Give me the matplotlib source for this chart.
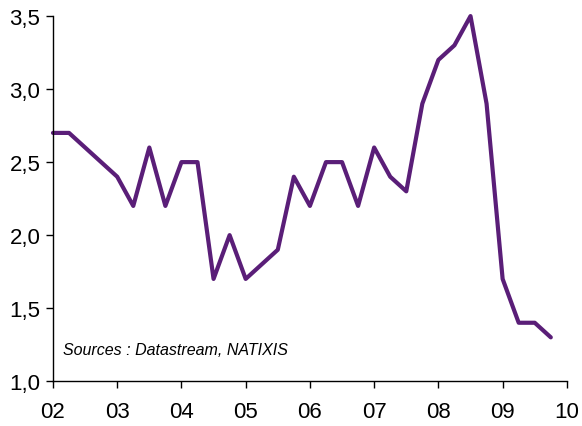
import matplotlib
matplotlib.use("Agg")
import matplotlib.pyplot as plt
import matplotlib.ticker as mticker
import numpy as np

# quarterly values, 2002Q1 .. 2009Q4
start_year = 2002
values = [2.7, 2.7, 2.6, 2.5, 2.4, 2.2, 2.6, 2.2,
          2.5, 2.5, 1.7, 2.0, 1.7, 1.8, 1.9, 2.4,
          2.2, 2.5, 2.5, 2.2, 2.6, 2.4, 2.3, 2.9,
          3.2, 3.3, 3.5, 2.9, 1.7, 1.4, 1.4, 1.3]
year_ticks = list(range(2002, 2011))
year_labels = ["02", "03", "04", "05", "06", "07", "08", "09", "10"]
y_ticks = [1.0, 1.5, 2.0, 2.5, 3.0, 3.5]
source_text = "Sources : Datastream, NATIXIS"


def main() -> None:
    plt.rcParams["font.family"] = ["Liberation Sans", "DejaVu Sans"]
    fig = plt.figure(figsize=(5.82, 4.27), dpi=100)
    ax = fig.add_axes([0.091, 0.105, 0.883, 0.855])

    x = start_year + np.arange(len(values)) / 4
    ax.plot(x, values, color="#5a1e78", linewidth=3.0, solid_joinstyle="round",
            solid_capstyle="round", clip_on=False)

    ax.set_xlim(2002, 2010)
    ax.set_ylim(1.0, 3.5)
    ax.set_xticks(year_ticks)
    ax.set_xticklabels(year_labels)
    ax.set_yticks(y_ticks)
    ax.yaxis.set_major_formatter(mticker.FuncFormatter(lambda v, _: f"{v:.1f}".replace(".", ",")))

    for side in ("top", "right"):
        ax.spines[side].set_visible(False)
    for side in ("left", "bottom"):
        ax.spines[side].set_linewidth(1.0)
    ax.tick_params(axis="both", direction="out", length=5, width=1.0, labelsize=16)
    ax.tick_params(axis="x", pad=9)
    ax.tick_params(axis="y", pad=4)

    ax.text(0.02, 0.075, source_text, transform=ax.transAxes, fontsize=11.5,
            style="italic", ha="left", va="baseline")

    fig.savefig("out.png", dpi=100)


if __name__ == "__main__":
    main()
